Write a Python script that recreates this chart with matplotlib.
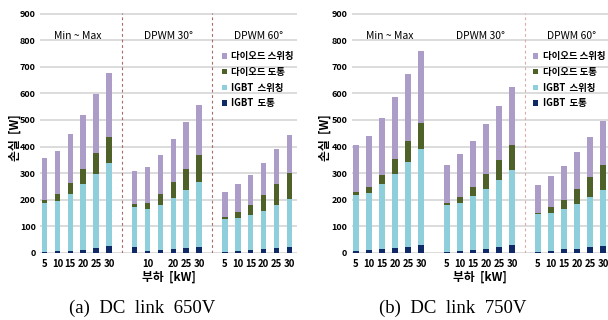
import numpy as np
import matplotlib.pyplot as plt

plt.rcParams['font.family'] = ['Noto Sans CJK KR', 'DejaVu Sans']

loads = [5, 10, 15, 20, 25, 30]
groups = ["Min ~ Max", "DPWM 30°", "DPWM 60°"]
series_names = ["IGBT  도통", "IGBT  스위칭", "다이오드 도통", "다이오드 스위칭"]
colors = ["#0F2A66", "#8FCFDC", "#4E6128", "#AB9DC8"]

# (a) DC link 650V  -- 3 groups x 6 loads
igbt_cond_650 = [3, 5, 8, 12, 16, 25, 22, 6, 10, 14, 18, 23, 4, 6, 9, 13, 18, 22]
igbt_sw_650 = [186, 191, 215, 247, 281, 313, 151, 157, 171, 193, 217, 244, 122, 125, 132, 145, 161, 180]
diode_cond_650 = [10, 24, 40, 56, 78, 96, 11, 23, 41, 58, 79, 100, 8, 23, 39, 59, 80, 98]
diode_sw_650 = [158, 165, 183, 202, 223, 243, 123, 138, 147, 164, 178, 190, 94, 103, 112, 122, 131, 144]

# (b) DC link 750V
igbt_cond_750 = [6, 9, 13, 18, 21, 30, 4, 5, 9, 14, 20, 28, 4, 6, 13, 14, 20, 26]
igbt_sw_750 = [213, 216, 244, 279, 322, 359, 175, 183, 203, 225, 255, 284, 140, 145, 151, 170, 188, 209]
diode_cond_750 = [8, 23, 37, 56, 76, 98, 7, 21, 35, 56, 73, 92, 7, 20, 36, 56, 76, 94]
diode_sw_750 = [177, 193, 212, 235, 256, 274, 143, 161, 175, 189, 206, 222, 104, 117, 125, 138, 152, 167]

# tick labels as shown (some hidden in the 650V DPWM 30 group)
ticks_650 = ["5", "10", "15", "20", "25", "30", "", "10", "", "20", "25", "30",
             "5", "10", "15", "20", "25", "30"]
ticks_750 = [str(v) for v in loads] * 3

W, H = 608, 320
fig = plt.figure(figsize=(W / 100, H / 100), dpi=100)


def panel(rect, xlim, series, ticklabels, dividers, div_color, legend_x, ylab_x, cap_x, caption):
    ax = fig.add_axes(rect)
    pos = np.array([g * 7 + i for g in range(len(groups)) for i in range(len(loads))])
    bottom = np.zeros(len(pos))
    handles = []
    for vals, c, name in zip(series, colors, series_names):
        vals = np.array(vals, dtype=float)
        b = ax.bar(pos, vals, 0.43, bottom=bottom, color=c, label=name, zorder=2)
        handles.append(b)
        bottom += vals
    for d in dividers:
        ax.axvline(d, color=div_color, lw=0.8, ls=(0, (2.5, 2.5)), zorder=1)
    for g, name in enumerate(groups):
        ax.text(g * 7 + 2.6, 815, name, ha="center", va="center", fontsize=7.5)
    ax.set_xlim(*xlim)
    ax.set_ylim(0, 903)
    ax.set_yticks(range(0, 901, 100))
    ax.set_xticks(pos)
    ax.set_xticklabels(ticklabels)
    ax.tick_params(length=0)
    ax.tick_params(axis="x", pad=4.5, labelsize=6.9)
    ax.tick_params(axis="y", pad=3, labelsize=6.5)
    for lab in ax.get_xticklabels() + ax.get_yticklabels():
        lab.set_fontweight("bold")
    for s in ax.spines.values():
        s.set_visible(False)
    ax.yaxis.grid(True, color="#D9D9D9", lw=1.3)
    ax.set_axisbelow(True)
    ax.legend(handles[::-1], series_names[::-1], loc="upper left",
              bbox_to_anchor=(legend_x, 0.86), frameon=False, borderpad=0,
              handlelength=0.5, handleheight=0.5, handletextpad=0.5,
              labelspacing=0.6, prop={"size": 6.8, "weight": "bold"})
    ax.set_xlabel("부하  [kW]", fontsize=8.5, fontweight="bold", labelpad=1.5)
    fig.text(ylab_x / W, 1 - 138 / H, "손실  [W]", rotation=90, ha="center", va="center",
             fontsize=8.5, fontweight="bold")
    fig.text(cap_x / W, 1 - 308 / H, caption, ha="center", va="center",
             fontsize=13.5, family="Liberation Serif")
    return ax


y0 = 1 - 252.7 / H
h = (252.7 - 13) / H
panel([40 / W, y0, 257 / W, h], (-0.35, 19.6),
      [igbt_cond_650, igbt_sw_650, diode_cond_650, diode_sw_650],
      ticks_650, [6, 13], "#A86A6A", 0.69, 15, 142, "(a)  DC  link  650V")
panel([351.5 / W, y0, 256.5 / W, h], (-0.35, 19.38),
      [igbt_cond_750, igbt_sw_750, diode_cond_750, diode_sw_750],
      ticks_750, [13], "#DDAAAA", 0.69, 325, 453, "(b)  DC  link  750V")

fig.savefig("out.png", dpi=100)
